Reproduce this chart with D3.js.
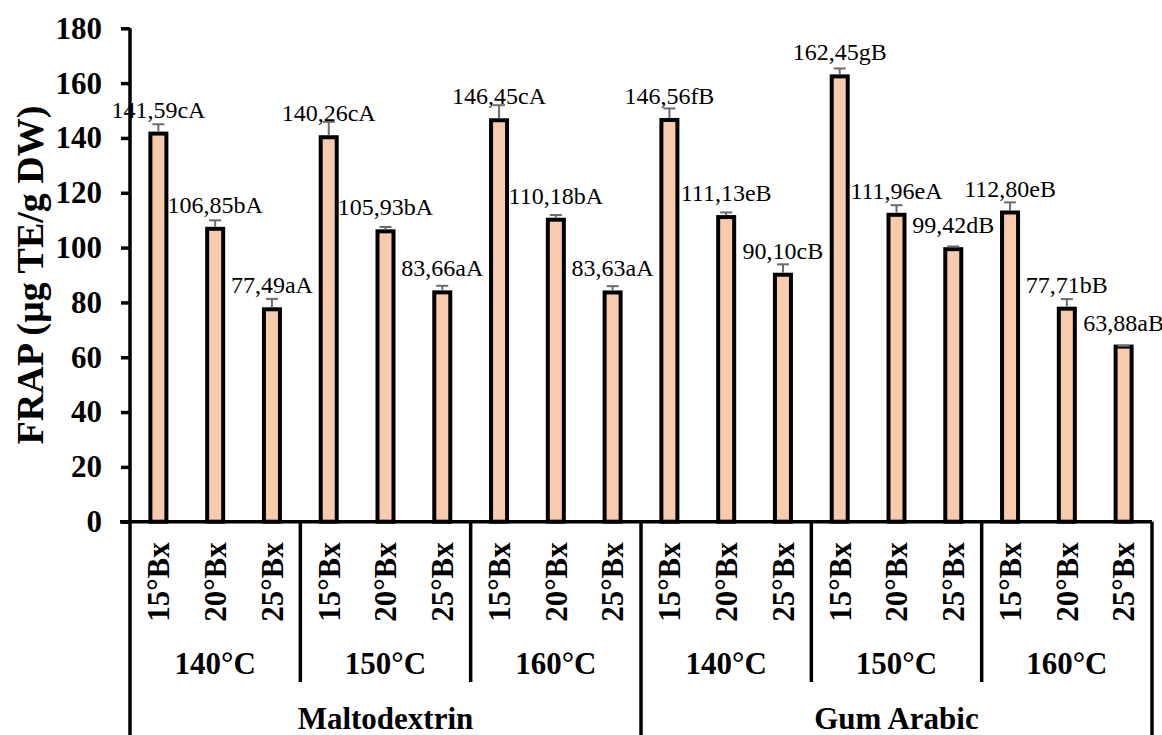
<!DOCTYPE html>
<meta charset="utf-8">
<script src="https://d3js.org/d3.v7.min.js"></script>
<style>
  body { margin: 0; background: #fff; }
  text { font-family: "Liberation Serif", "Times New Roman", serif; }
</style>
<body>
<svg width="1162" height="735"></svg>
<script>
// data
var carriers = ["Maltodextrin", "Gum Arabic"];
var temps = ["140°C", "150°C", "160°C"];
var brix = ["15°Bx", "20°Bx", "25°Bx"];
var values = [141.59, 106.85, 77.49, 140.26, 105.93, 83.66, 146.45, 110.18, 83.63,
              146.56, 111.13, 90.10, 162.45, 111.96, 99.42, 112.80, 77.71, 63.88];
var errors = [3.4, 3.1, 3.8, 5.6, 1.6, 2.4, 5.5, 1.7, 2.3,
              4.2, 1.7, 3.8, 2.9, 3.5, 1.0, 3.7, 3.5, 0.3];
var letters = ["cA", "bA", "aA", "cA", "bA", "aA", "cA", "bA", "aA",
               "fB", "eB", "cB", "gB", "eA", "dB", "eB", "bB", "aB"];
var yTicks = [0, 20, 40, 60, 80, 100, 120, 140, 160, 180];

var svg = d3.select("svg"),
    pLeft = 130, pRight = 1152, pTop = 28.3, pBottom = 521.7;

var rows = [];
carriers.forEach(function(c, ci) {
  temps.forEach(function(t, ti) {
    brix.forEach(function(b, bi) {
      var i = ci * 9 + ti * 3 + bi;
      rows.push({i: i, carrier: c, temp: t, brix: b, value: values[i], err: errors[i], letter: letters[i]});
    });
  });
});

var x = d3.scaleBand().domain(d3.range(rows.length)).range([pLeft, pRight]).padding(0);
var y = d3.scaleLinear().domain([0, 180]).range([pBottom, pTop]);
var bw = 16;

// y axis
var yAxis = svg.append("g")
    .attr("transform", "translate(" + pLeft + ",0)")
    .call(d3.axisLeft(y).tickValues(yTicks).tickSize(9).tickPadding(19));
yAxis.select(".domain").remove();
yAxis.selectAll("line").attr("stroke", "#000").attr("stroke-width", 3.5);
yAxis.selectAll("text")
    .attr("fill", "#000")
    .style("font-family", "'Liberation Serif', serif")
    .style("font-size", "31px")
    .style("font-weight", "bold");

svg.append("text")
    .attr("transform", "translate(" + 30 + "," + ((pTop + pBottom) / 2) + ") rotate(-90)")
    .attr("text-anchor", "middle")
    .attr("dy", "0.35em")
    .style("font-size", "38px")
    .style("font-weight", "bold")
    .text("FRAP (µg TE/g DW)");

// bars
svg.append("g").selectAll("rect")
    .data(rows)
    .enter().append("rect")
    .attr("x", function(d) { return x(d.i) + x.bandwidth() / 2 - bw / 2; })
    .attr("y", function(d) { return y(d.value); })
    .attr("width", bw)
    .attr("height", function(d) { return y(0) - y(d.value); })
    .attr("fill", "#F8CBAD")
    .attr("stroke", "#000")
    .attr("stroke-width", 4);

// error bars (plus only)
var eb = svg.append("g").attr("stroke", "#6b6b6b").attr("stroke-width", 2);
rows.forEach(function(d) {
  var cx = x(d.i) + x.bandwidth() / 2;
  eb.append("line").attr("x1", cx).attr("x2", cx).attr("y1", y(d.value) - 2).attr("y2", y(d.value + d.err));
  eb.append("line").attr("x1", cx - 6).attr("x2", cx + 6).attr("y1", y(d.value + d.err)).attr("y2", y(d.value + d.err));
});

// value labels
svg.append("g").selectAll("text")
    .data(rows)
    .enter().append("text")
    .attr("x", function(d) { return x(d.i) + x.bandwidth() / 2; })
    .attr("y", function(d) { return y(d.value) - 16; })
    .attr("text-anchor", "middle")
    .style("font-size", "24px")
    .text(function(d) { return d.value.toFixed(2).replace(".", ",") + d.letter; });

// axes lines
var axisLines = svg.append("g").attr("stroke", "#000").attr("stroke-width", 3.5);
axisLines.append("line").attr("x1", pLeft - 10).attr("x2", pRight).attr("y1", pBottom).attr("y2", pBottom);

for (var k = 0; k <= rows.length; k += 3) {
  var xx = k === rows.length ? pRight : x(k);
  var bigSep = (k % 9 === 0);
  axisLines.append("line")
      .attr("x1", xx).attr("x2", xx)
      .attr("y1", k === 0 ? pTop : pBottom)
      .attr("y2", bigSep ? 735 : 682);
}

// category labels
svg.append("g").selectAll("text")
    .data(rows)
    .enter().append("text")
    .attr("transform", function(d) { return "translate(" + (x(d.i) + x.bandwidth() / 2) + ",582) rotate(-90)"; })
    .attr("text-anchor", "middle")
    .attr("dy", "0.35em")
    .style("font-size", "31px")
    .style("font-weight", "bold")
    .text(function(d) { return d.brix; });

var tempGroups = d3.range(6).map(function(g) { return {g: g, label: temps[g % 3]}; });
svg.append("g").selectAll("text")
    .data(tempGroups)
    .enter().append("text")
    .attr("x", function(d) { return (x(d.g * 3) + x(d.g * 3 + 2) + x.bandwidth()) / 2; })
    .attr("y", 674)
    .attr("text-anchor", "middle")
    .style("font-size", "31px")
    .style("font-weight", "bold")
    .text(function(d) { return d.label; });

svg.append("g").selectAll("text")
    .data(carriers)
    .enter().append("text")
    .attr("x", function(d, i) { return (x(i * 9) + x(i * 9 + 8) + x.bandwidth()) / 2; })
    .attr("y", 729)
    .attr("text-anchor", "middle")
    .style("font-size", "31px")
    .style("font-weight", "bold")
    .text(function(d) { return d; });
</script>
</body>
